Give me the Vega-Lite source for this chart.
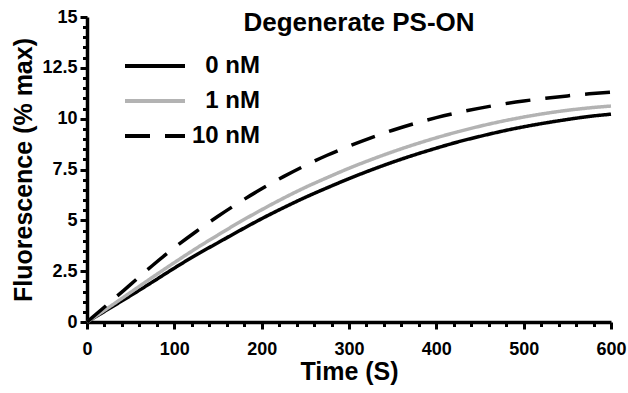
{
  "$schema": "https://vega.github.io/schema/vega-lite/v6.json",
  "width": 524,
  "height": 305,
  "autosize": "none",
  "padding": {"left": 87, "top": 17, "right": 17, "bottom": 71},
  "background": "white",
  "title": {
    "text": "Degenerate PS-ON",
    "font": "Liberation Sans",
    "fontSize": 26,
    "fontWeight": "bold",
    "color": "black",
    "anchor": "middle",
    "dx": 10,
    "dy": 32
  },
  "config": {
    "view": {"stroke": null},
    "font": "Liberation Sans"
  },
  "data": {
    "values": [
      {"t": 0, "v": 0, "series": "0 nM"},
      {"t": 25, "v": 0.65, "series": "0 nM"},
      {"t": 50, "v": 1.3, "series": "0 nM"},
      {"t": 75, "v": 1.97, "series": "0 nM"},
      {"t": 100, "v": 2.65, "series": "0 nM"},
      {"t": 125, "v": 3.3, "series": "0 nM"},
      {"t": 150, "v": 3.9, "series": "0 nM"},
      {"t": 175, "v": 4.5, "series": "0 nM"},
      {"t": 200, "v": 5.08, "series": "0 nM"},
      {"t": 225, "v": 5.62, "series": "0 nM"},
      {"t": 250, "v": 6.13, "series": "0 nM"},
      {"t": 275, "v": 6.6, "series": "0 nM"},
      {"t": 300, "v": 7.05, "series": "0 nM"},
      {"t": 325, "v": 7.47, "series": "0 nM"},
      {"t": 350, "v": 7.86, "series": "0 nM"},
      {"t": 375, "v": 8.22, "series": "0 nM"},
      {"t": 400, "v": 8.55, "series": "0 nM"},
      {"t": 425, "v": 8.86, "series": "0 nM"},
      {"t": 450, "v": 9.13, "series": "0 nM"},
      {"t": 475, "v": 9.38, "series": "0 nM"},
      {"t": 500, "v": 9.6, "series": "0 nM"},
      {"t": 525, "v": 9.79, "series": "0 nM"},
      {"t": 550, "v": 9.96, "series": "0 nM"},
      {"t": 575, "v": 10.11, "series": "0 nM"},
      {"t": 600, "v": 10.22, "series": "0 nM"},
      {"t": 0, "v": 0, "series": "1 nM"},
      {"t": 25, "v": 0.72, "series": "1 nM"},
      {"t": 50, "v": 1.46, "series": "1 nM"},
      {"t": 75, "v": 2.2, "series": "1 nM"},
      {"t": 100, "v": 2.92, "series": "1 nM"},
      {"t": 125, "v": 3.62, "series": "1 nM"},
      {"t": 150, "v": 4.28, "series": "1 nM"},
      {"t": 175, "v": 4.92, "series": "1 nM"},
      {"t": 200, "v": 5.52, "series": "1 nM"},
      {"t": 225, "v": 6.09, "series": "1 nM"},
      {"t": 250, "v": 6.62, "series": "1 nM"},
      {"t": 275, "v": 7.1, "series": "1 nM"},
      {"t": 300, "v": 7.56, "series": "1 nM"},
      {"t": 325, "v": 7.98, "series": "1 nM"},
      {"t": 350, "v": 8.37, "series": "1 nM"},
      {"t": 375, "v": 8.73, "series": "1 nM"},
      {"t": 400, "v": 9.06, "series": "1 nM"},
      {"t": 425, "v": 9.36, "series": "1 nM"},
      {"t": 450, "v": 9.63, "series": "1 nM"},
      {"t": 475, "v": 9.87, "series": "1 nM"},
      {"t": 500, "v": 10.08, "series": "1 nM"},
      {"t": 525, "v": 10.26, "series": "1 nM"},
      {"t": 550, "v": 10.41, "series": "1 nM"},
      {"t": 575, "v": 10.53, "series": "1 nM"},
      {"t": 600, "v": 10.62, "series": "1 nM"},
      {"t": 0, "v": 0, "series": "10 nM"},
      {"t": 25, "v": 0.92, "series": "10 nM"},
      {"t": 50, "v": 1.85, "series": "10 nM"},
      {"t": 75, "v": 2.78, "series": "10 nM"},
      {"t": 100, "v": 3.65, "series": "10 nM"},
      {"t": 125, "v": 4.45, "series": "10 nM"},
      {"t": 150, "v": 5.2, "series": "10 nM"},
      {"t": 175, "v": 5.9, "series": "10 nM"},
      {"t": 200, "v": 6.55, "series": "10 nM"},
      {"t": 225, "v": 7.15, "series": "10 nM"},
      {"t": 250, "v": 7.7, "series": "10 nM"},
      {"t": 275, "v": 8.2, "series": "10 nM"},
      {"t": 300, "v": 8.65, "series": "10 nM"},
      {"t": 325, "v": 9.06, "series": "10 nM"},
      {"t": 350, "v": 9.43, "series": "10 nM"},
      {"t": 375, "v": 9.76, "series": "10 nM"},
      {"t": 400, "v": 10.05, "series": "10 nM"},
      {"t": 425, "v": 10.3, "series": "10 nM"},
      {"t": 450, "v": 10.52, "series": "10 nM"},
      {"t": 475, "v": 10.71, "series": "10 nM"},
      {"t": 500, "v": 10.87, "series": "10 nM"},
      {"t": 525, "v": 11.0, "series": "10 nM"},
      {"t": 550, "v": 11.12, "series": "10 nM"},
      {"t": 575, "v": 11.22, "series": "10 nM"},
      {"t": 600, "v": 11.3, "series": "10 nM"}
    ]
  },
  "mark": {"type": "line", "strokeWidth": 3.5, "clip": false, "interpolate": "monotone"},
  "encoding": {
    "x": {
      "field": "t",
      "type": "quantitative",
      "scale": {"domain": [0, 600], "nice": false, "zero": true},
      "axis": {
        "title": "Time (S)",
        "values": [0,20,40,60,80,100,120,140,160,180,200,220,240,260,280,300,320,340,360,380,400,420,440,460,480,500,520,540,560,580,600],
        "labelExpr": "datum.value % 100 === 0 ? '' + datum.value : ''",
        "labelOverlap": false,
        "labelFlush": false,
        "grid": false,
        "domainColor": "black",
        "domainWidth": 3.5,
        "tickColor": "black",
        "tickWidth": 3,
        "tickSize": {"condition": {"test": "datum.value % 100 === 0", "value": 7}, "value": 4.5},
        "labelFont": "Liberation Sans",
        "labelFontSize": 18,
        "labelFontWeight": "bold",
        "labelColor": "black",
        "labelPadding": 11,
        "titleFont": "Liberation Sans",
        "titleFontSize": 25,
        "titleFontWeight": "bold",
        "titleColor": "black",
        "titlePadding": 1
      }
    },
    "y": {
      "field": "v",
      "type": "quantitative",
      "scale": {"domain": [0, 15], "nice": false},
      "axis": {
        "title": "Fluorescence (% max)",
        "values": [0,0.5,1,1.5,2,2.5,3,3.5,4,4.5,5,5.5,6,6.5,7,7.5,8,8.5,9,9.5,10,10.5,11,11.5,12,12.5,13,13.5,14,14.5,15],
        "labelExpr": "datum.value % 2.5 === 0 ? '' + datum.value : ''",
        "labelOverlap": false,
        "labelFlush": false,
        "grid": false,
        "domainColor": "black",
        "domainWidth": 3.5,
        "tickColor": "black",
        "tickWidth": 3,
        "tickSize": {"condition": {"test": "datum.value % 2.5 === 0", "value": 7}, "value": 4.5},
        "labelFont": "Liberation Sans",
        "labelFontSize": 18,
        "labelFontWeight": "bold",
        "labelColor": "black",
        "labelPadding": 3,
        "titleFont": "Liberation Sans",
        "titleFontSize": 25,
        "titleFontWeight": "bold",
        "titleColor": "black",
        "titlePadding": 5
      }
    },
    "color": {
      "field": "series",
      "type": "nominal",
      "scale": {"domain": ["0 nM", "1 nM", "10 nM"], "range": ["#000000", "#b3b3b3", "#000000"]},
      "legend": {
        "title": null,
        "orient": "none",
        "legendX": 36,
        "legendY": 35,
        "symbolType": "M-1,0H4",
        "symbolSize": 576,
        "symbolStrokeWidth": 4,
        "labelFont": "Liberation Sans",
        "labelFontSize": 24,
        "labelFontWeight": "bold",
        "labelColor": "black",
        "labelAlign": "right",
        "labelOffset": 109,
        "labelLimit": 0,
        "rowPadding": 9,
        "encode": {
          "symbols": {
            "update": {
              "strokeDash": {"signal": "datum.label === '10 nM' ? [15, 8] : [1, 0]"}
            }
          }
        }
      }
    },
    "strokeDash": {
      "field": "series",
      "type": "nominal",
      "scale": {"domain": ["0 nM", "1 nM", "10 nM"], "range": [[1, 0], [1, 0], [25, 15]]}
    }
  }
}
